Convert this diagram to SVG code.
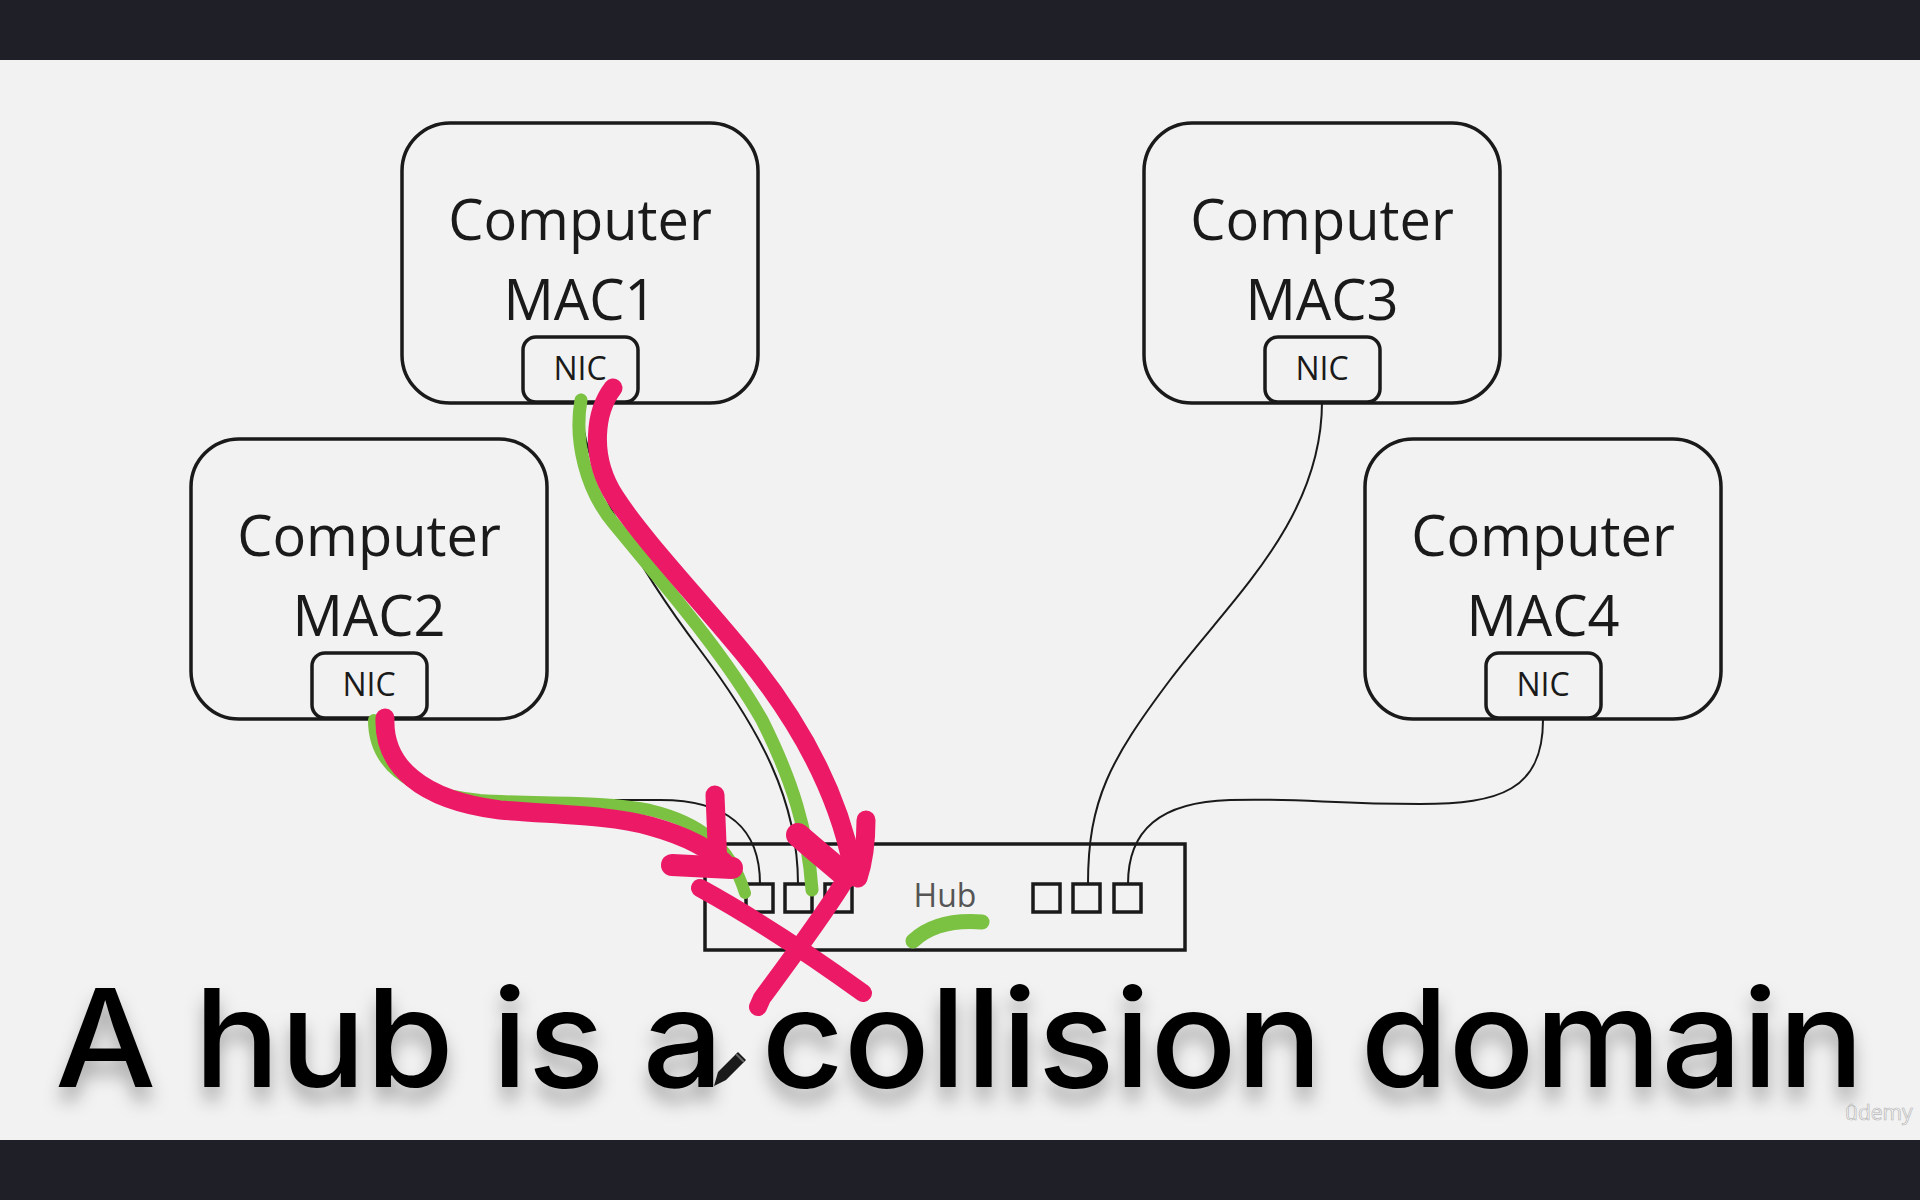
<svg xmlns="http://www.w3.org/2000/svg" width="1920" height="1200" viewBox="0 0 1920 1200">
<defs>
<style>
.box{fill:none;stroke:#1a1a1a;stroke-width:3.5}
.nic{fill:#f2f2f2;stroke:#1a1a1a;stroke-width:3.5}
.port{fill:none;stroke:#1a1a1a;stroke-width:3.5}
.lbl{font-family:"Open Sans","Noto Sans",sans-serif;font-size:56px;fill:#1a1a1a;text-anchor:middle}
.nict{font-family:"Open Sans","Noto Sans",sans-serif;font-size:32px;fill:#1a1a1a;text-anchor:middle}
.wire{fill:none;stroke:#1a1a1a;stroke-width:2}
.pink{fill:none;stroke:#ec1a66;stroke-linecap:round;stroke-linejoin:round}
.green{fill:none;stroke:#7cc242;stroke-linecap:round;stroke-linejoin:round}
</style>
<filter id="shadow" x="-5%" y="-30%" width="110%" height="180%">
<feDropShadow dx="0" dy="14" stdDeviation="9" flood-color="#000" flood-opacity="0.3"/>
</filter>
</defs>
<rect x="0" y="0" width="1920" height="1200" fill="#f2f2f2"/>
<rect x="0" y="0" width="1920" height="60" fill="#1f1f28"/>
<rect x="0" y="1140" width="1920" height="60" fill="#1f1f28"/>

<g id="connectors">
<path class="wire" d="M580,402 C585,480 640,570 700,650 C760,730 798,800 798,884"/>
<path class="wire" d="M370,718 C372,775 420,800 560,800 L660,800 C730,800 760,830 760,884"/>
<path class="wire" d="M1322,402 C1322,520 1230,600 1170,680 C1110,760 1088,800 1088,884"/>
<path class="wire" d="M1543,720 C1543,790 1500,804 1420,804 C1330,804 1300,798 1230,800 C1160,802 1128,830 1128,884"/>
</g>

<g id="mac1">
<rect class="box" x="402" y="123" width="356" height="280" rx="48"/>
<text class="lbl" x="580" y="240">Computer</text>
<text class="lbl" x="580" y="320">MAC1</text>
<rect class="nic" x="523" y="337" width="115" height="65" rx="13"/>
<text class="nict" x="580" y="380">NIC</text>
</g>
<g id="mac3">
<rect class="box" x="1144" y="123" width="356" height="280" rx="48"/>
<text class="lbl" x="1322" y="240">Computer</text>
<text class="lbl" x="1322" y="320">MAC3</text>
<rect class="nic" x="1265" y="337" width="115" height="65" rx="13"/>
<text class="nict" x="1322" y="380">NIC</text>
</g>
<g id="mac2">
<rect class="box" x="191" y="439" width="356" height="280" rx="48"/>
<text class="lbl" x="369" y="556">Computer</text>
<text class="lbl" x="369" y="636">MAC2</text>
<rect class="nic" x="312" y="653" width="115" height="65" rx="13"/>
<text class="nict" x="369" y="696">NIC</text>
</g>
<g id="mac4">
<rect class="box" x="1365" y="439" width="356" height="280" rx="48"/>
<text class="lbl" x="1543" y="556">Computer</text>
<text class="lbl" x="1543" y="636">MAC4</text>
<rect class="nic" x="1486" y="653" width="115" height="65" rx="13"/>
<text class="nict" x="1543" y="696">NIC</text>
</g>
<g id="hub">
<rect class="box" x="705" y="844" width="480" height="106"/>
<rect class="port" x="746" y="884" width="27" height="28"/>
<rect class="port" x="785" y="884" width="27" height="28"/>
<rect class="port" x="825" y="884" width="27" height="28"/>
<rect class="port" x="1033" y="884" width="27" height="28"/>
<rect class="port" x="1073" y="884" width="27" height="28"/>
<rect class="port" x="1114" y="884" width="27" height="28"/>
<text x="945" y="907" font-family="'Open Sans','Noto Sans',sans-serif" font-size="32" fill="#555" text-anchor="middle">Hub</text>
</g>

<g id="annotations">
<path class="green" stroke-width="13" d="M581,400 C574,440 585,490 615,525 C660,580 722,650 762,720 C792,780 808,830 812,890"/>
<path class="green" stroke-width="12" d="M374,720 C374,760 402,792 480,800 C540,804 600,800 650,810 C700,822 730,845 745,893"/>
<path class="green" stroke-width="15" d="M913,941 C930,925 955,920 982,922"/>
<path class="pink" stroke-width="19" d="M613,388 C596,410 588,455 615,497 S700,600 745,655 S835,780 852,865"/>
<path class="pink" stroke-width="24" d="M798,835 C815,850 830,862 846,876"/>
<path class="pink" stroke-width="19" d="M866,820 C866,840 864,860 858,878"/>
<path class="pink" stroke-width="19" d="M385,718 C383,765 420,800 500,810 C560,815 610,815 650,826 C690,837 715,852 730,868"/>
<path class="pink" stroke-width="19" d="M715,795 C716,820 717,845 718,867"/>
<path class="pink" stroke-width="22" d="M672,865 C690,866 712,867 732,868"/>
<path class="pink" stroke-width="18" d="M700,888 C740,910 790,940 863,993"/>
<path class="pink" stroke-width="18" d="M842,885 C820,920 790,960 762,998 L758,1007"/>
</g>

<text x="55" y="1087" font-family="Inter,'Open Sans',sans-serif" font-weight="500" font-size="136" fill="#050505" textLength="1809" lengthAdjust="spacingAndGlyphs" filter="url(#shadow)">A hub is a collision domain</text>

<g id="cursor">
<path d="M714,1086 L718,1072 L738,1052 L746,1060 L726,1080 Z" fill="#1a1a1a"/>
<path d="M736,1054 L744,1062" stroke="#666" stroke-width="2"/>
</g>

<text x="1845" y="1120" font-family="'Open Sans','Noto Sans',sans-serif" font-size="21" fill="#f7f7f7" stroke="#b8b8b8" stroke-width="0.7">ûdemy</text>
</svg>
